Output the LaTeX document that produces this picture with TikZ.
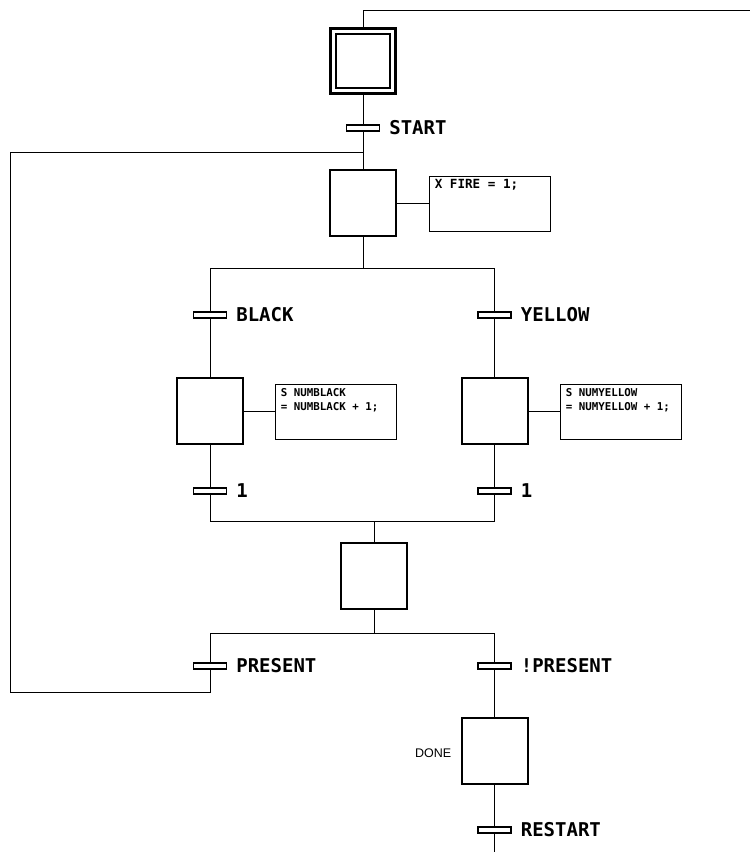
\documentclass[tikz,border=0pt]{standalone}
\usepackage{fontspec}
\newfontfamily\lblfont{DejaVu Sans Mono}
\newfontfamily\donefont{Liberation Sans}
\begin{document}
\begin{tikzpicture}[x=1pt,y=-1pt,
  wire/.style={line width=1pt},
  stepbox/.style={draw, line width=2pt, minimum width=66pt, minimum height=66pt, inner sep=0pt},
  innerbox/.style={draw, line width=2pt, minimum width=54pt, minimum height=54pt, inner sep=0pt},
  trans/.style={draw, line width=1.3pt, fill=white, minimum width=33pt, minimum height=6pt, inner sep=0pt},
  tlabel/.style={anchor=west, inner sep=0pt, font=\lblfont\bfseries\fontsize{19}{21}\selectfont},
  actbox/.style={draw, line width=0.9pt, minimum width=121pt, minimum height=55pt, inner sep=0pt},
  acttext/.style={anchor=north west, inner sep=0pt, align=left, font=\lblfont\bfseries\fontsize{10.8}{14}\selectfont},
  acttextbig/.style={anchor=north west, inner sep=0pt, align=left, font=\lblfont\bfseries\fontsize{12.6}{15}\selectfont},
]
\useasboundingbox (0,0) rectangle (750,852);

% initial step
\node[stepbox, line width=3pt, minimum width=65pt, minimum height=65pt] (s0) at (363,60.5) {};
\node[innerbox] (s0i) at (363,60.5) {};
\coordinate (top) at (363,10);
\coordinate (topr) at (750,10);
\draw[wire] (s0.north) -- (top) -- (topr);

% START
\node[trans] (t0) at (363,128) {};
\node[tlabel] (t0l) at ([xshift=9pt]t0.east) {START};

% step 1
\node[stepbox] (s1) at (363,203) {};
\node[actbox] (a1) at (489.5,203.5) {};
\node[acttextbig] (a1t) at ([shift={(6,4)}]a1.north west) {X FIRE = 1;};
\draw[wire] (s1.east) -- (s1.east -| a1.west);
\draw[wire] (s0.south) -- (t0) -- (s1.north);

% loop coordinates
\coordinate (lj) at (363,152);
\coordinate (ltl) at (10,152);
\coordinate (lbl) at (10,692);
\coordinate (lbr) at (210,692);

% divergence
\coordinate (d1) at (363,268);
\coordinate (d1l) at (210,268);
\coordinate (d1r) at (494.5,268);
\draw[wire] (s1.south) -- (d1);
\draw[wire] (d1l) -- (d1r);

% BLACK branch
\node[trans] (tB) at (210,315) {};
\node[tlabel] (tBl) at ([xshift=9pt]tB.east) {BLACK};
\node[stepbox] (sB) at (210,411) {};
\node[actbox] (aB) at (335.5,412) {};
\node[acttext] (aBt) at ([shift={(6,4)}]aB.north west) {S NUMBLACK\\= NUMBLACK + 1;};
\draw[wire] (sB.east) -- (sB.east -| aB.west);
\node[trans] (t1B) at (210,491) {};
\node[tlabel] (t1Bl) at ([xshift=9pt]t1B.east) {1};
\draw[wire] (d1l) -- (tB) -- (sB.north);
\draw[wire] (sB.south) -- (t1B);

% YELLOW branch
\node[trans] (tY) at (494.5,315) {};
\node[tlabel] (tYl) at ([xshift=9pt]tY.east) {YELLOW};
\node[stepbox] (sY) at (494.5,411) {};
\node[actbox] (aY) at (620.5,412) {};
\node[acttext] (aYt) at ([shift={(6,4)}]aY.north west) {S NUMYELLOW\\= NUMYELLOW + 1;};
\draw[wire] (sY.east) -- (sY.east -| aY.west);
\node[trans] (t1Y) at (494.5,491) {};
\node[tlabel] (t1Yl) at ([xshift=9pt]t1Y.east) {1};
\draw[wire] (d1r) -- (tY) -- (sY.north);
\draw[wire] (sY.south) -- (t1Y);

% convergence
\coordinate (j1l) at (210,521);
\coordinate (j1r) at (494.5,521);
\coordinate (j1) at (374,521);
\draw[wire] (t1B) -- (j1l) -- (j1r) -- (t1Y);

% step 3
\node[stepbox] (s3) at (374,576) {};
\draw[wire] (j1) -- (s3.north);

% divergence 2
\coordinate (d2) at (374,633);
\coordinate (d2l) at (210,633);
\coordinate (d2r) at (494.5,633);
\draw[wire] (s3.south) -- (d2);
\draw[wire] (d2l) -- (d2r);

% PRESENT
\node[trans] (tP) at (210,666) {};
\node[tlabel] (tPl) at ([xshift=9pt]tP.east) {PRESENT};
\draw[wire] (d2l) -- (tP) -- (lbr) -- (lbl) -- (ltl) -- (lj);

% !PRESENT
\node[trans] (tNP) at (494.5,666) {};
\node[tlabel] (tNPl) at ([xshift=9pt]tNP.east) {!PRESENT};
\node[stepbox] (s4) at (494.5,751) {};
\node[anchor=east, inner sep=0pt, font=\donefont\fontsize{12.5}{14}\selectfont] (s4l) at ([xshift=-9pt,yshift=-2pt]s4.west) {DONE};
\draw[wire] (d2r) -- (tNP) -- (s4.north);

% RESTART
\node[trans] (tR) at (494.5,830) {};
\node[tlabel] (tRl) at ([xshift=9pt]tR.east) {RESTART};
\coordinate (bot) at (494.5,852);
\draw[wire] (s4.south) -- (tR) -- (bot);
\end{tikzpicture}
\end{document}
